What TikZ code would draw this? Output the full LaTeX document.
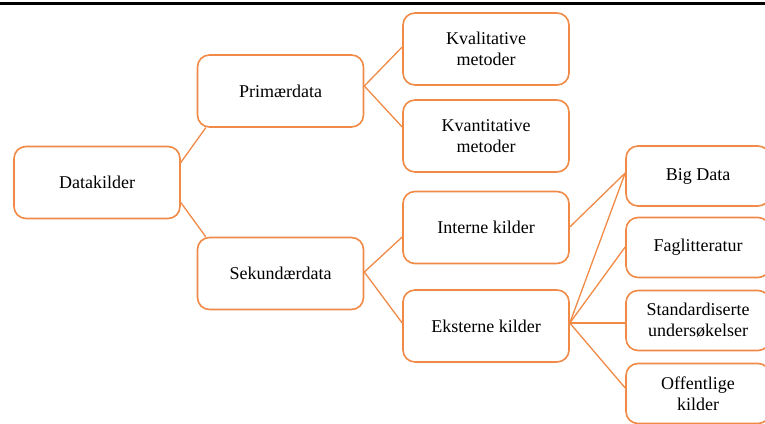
\documentclass[tikz,border=0pt]{standalone}
\usepackage{fontspec}
\setmainfont{Liberation Serif}
\usetikzlibrary{positioning, calc}

\definecolor{smartorange}{RGB}{240,138,70}

\begin{document}
\begin{tikzpicture}[x=1pt, y=-1pt, line cap=round, line join=round]

		%======================
		% STYLES
		%======================
		\tikzset{
			box/.style={draw=smartorange, line width=1.6pt, rounded corners=12pt, fill=white,
				align=center, inner sep=2pt, font=\fontsize{18}{21}\selectfont},
			bigbox/.style={box, minimum width=166pt, minimum height=72pt},
			leafbox/.style={box, minimum width=144pt, minimum height=60pt},
			link/.style={draw=smartorange, line width=1.3pt}
		}

		% frame of the picture (image is 765 x 423)
		\useasboundingbox (0,0) rectangle (765,423);
		\clip (0,0) rectangle (765,423);

		% rule along the top edge
		\draw[line width=2.2pt] (0,3.5) -- (765,3.5);

		%----------------------
		% Level 1 and 2
		%----------------------
		\node[bigbox] (datakilder) at (97,182.5) {Datakilder};
		\node[bigbox] (primaer) at (280.5,91) {Primærdata};
		\node[bigbox] (sekundaer) at (280.5,273.5) {Sekundærdata};

		%----------------------
		% Level 3
		%----------------------
		\node[bigbox] (kvalitativ) at (486,49) {Kvalitative\\metoder};
		\node[bigbox] (kvantitativ) at (486,136) {Kvantitative\\metoder};
		\node[bigbox] (interne) at (486,227.5) {Interne kilder};
		\node[bigbox] (eksterne) at (486,326) {Eksterne kilder};

		%----------------------
		% Level 4 (cut off at the right edge)
		%----------------------
		\node[leafbox] (bigdata) at (698,176) {Big Data};
		\node[leafbox] (fagbok) at (698,247.5) {Faglitteratur};
		\node[leafbox] (standard) at (698,320.5) {Standardiserte\\undersøkelser};
		\node[leafbox] (offentlig) at (698,393.5) {Offentlige\\kilder};

		%----------------------
		% Connectors
		%----------------------
		\draw[link] ([yshift=20pt]datakilder.east) -- ([xshift=9pt]primaer.south west);
		\draw[link] ([yshift=-20pt]datakilder.east) -- ([xshift=9pt]sekundaer.north west);

		\draw[link] ([yshift=5pt]primaer.east) -- ([yshift=2pt]kvalitativ.west);
		\draw[link] ([yshift=5pt]primaer.east) -- ([yshift=9pt]kvantitativ.west);

		\draw[link] ([yshift=1.5pt]sekundaer.east) -- ([yshift=-9.5pt]interne.west);
		\draw[link] ([yshift=1.5pt]sekundaer.east) -- ([yshift=3pt]eksterne.west);

		\draw[link] ([yshift=0.5pt]interne.east) -- ([yshift=3pt]bigdata.west);

		\draw[link] ([yshift=3pt]eksterne.east) -- ([yshift=3pt]bigdata.west);
		\draw[link] ([yshift=3pt]eksterne.east) -- ([yshift=0.5pt]fagbok.west);
		\draw[link] ([yshift=3pt]eksterne.east) -- ([yshift=-2.5pt]standard.west);
		\draw[link] ([yshift=3pt]eksterne.east) -- ([yshift=5.5pt]offentlig.west);

	\end{tikzpicture}
\end{document}
